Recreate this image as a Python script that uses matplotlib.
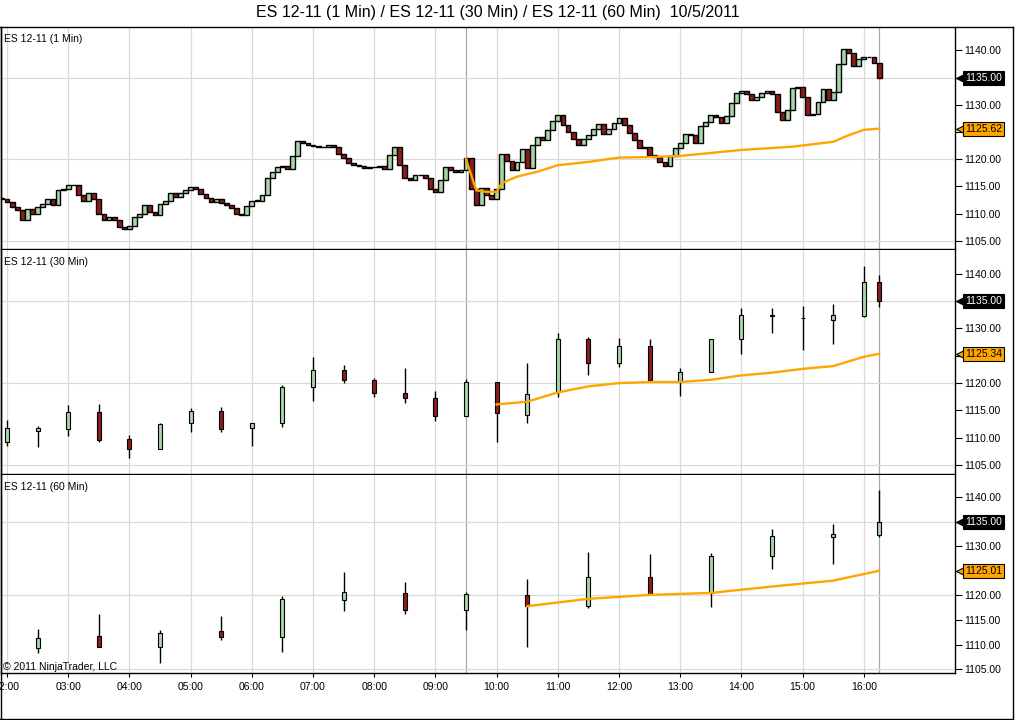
import numpy as np
import matplotlib
matplotlib.use("Agg")
import matplotlib.pyplot as plt
import matplotlib.transforms as mtransforms
from matplotlib.lines import Line2D

plt.rcParams['font.family'] = ['Liberation Sans', 'DejaVu Sans']

UP = '#A6D6A6'
DOWN = '#8E1B1B'
MA = '#FFA500'

# --- ES 12-11 (1 Min): closes every 5 minutes from 01:55
m1_first = "01:55"
m1_close = [1112.75,
            1112.1, 1111.2, 1110.6, 1108.8, 1110.9, 1110.0, 1111.2, 1111.8, 1112.6, 1111.5, 1114.3, 1114.6,
            1115.3, 1115.2, 1113.4, 1112.4, 1113.7, 1112.75, 1110.0, 1108.8, 1109.4, 1108.8, 1107.5, 1107.2,
            1107.8, 1109.4, 1110.0, 1111.5, 1110.3, 1109.7, 1111.8, 1112.4, 1113.7, 1113.05, 1113.7, 1114.3,
            1114.9, 1114.6, 1113.6, 1112.8, 1112.2, 1112.6, 1112.0, 1111.5, 1111.0, 1110.0, 1109.8, 1111.4,
            1112.4, 1112.4, 1113.5, 1116.5, 1117.6, 1118.5, 1118.7, 1118.2, 1120.5, 1123.4, 1122.9, 1122.6,
            1122.5, 1122.2, 1122.3, 1122.7, 1122.2, 1121.0, 1120.3, 1119.3, 1119.0, 1118.7, 1118.4, 1118.5,
            1118.6, 1118.8, 1118.2, 1120.8, 1122.2, 1119.0, 1116.5, 1116.2, 1117.1, 1117.1, 1116.5, 1114.5,
            1114.0, 1116.2, 1118.6, 1118.0, 1117.7, 1118.1, 1120.2, 1114.5, 1111.5, 1114.8, 1113.5, 1112.6,
            1114.5, 1121.0, 1119.7, 1118.0, 1119.5, 1121.8, 1118.3, 1122.6, 1124.1, 1123.5, 1125.4, 1127.0,
            1128.1, 1126.3, 1125.0, 1123.7, 1122.7, 1123.8, 1124.5, 1125.6, 1126.5, 1124.6, 1125.6, 1126.6,
            1127.6, 1126.2, 1124.9, 1123.6, 1122.0, 1122.2, 1120.8, 1120.4, 1119.4, 1118.8, 1120.5, 1122.1,
            1123.0, 1124.6, 1124.4, 1123.0, 1126.1, 1126.9, 1128.2, 1127.7, 1126.7, 1128.0, 1130.3, 1132.1,
            1132.6, 1131.9, 1130.9, 1131.4, 1132.1, 1132.5, 1132.0, 1128.7, 1127.2, 1129.0, 1133.0, 1133.3,
            1131.5, 1128.1, 1128.4, 1130.6, 1132.9, 1130.8, 1132.4, 1137.5, 1140.2, 1139.6, 1137.2, 1138.4,
            1138.7, 1138.7, 1137.6, 1135.0]
ma1_times = ["09:30", "09:40", "09:50", "10:00", "10:05", "10:20", "10:40", "11:00", "11:30",
             "12:00", "12:30", "13:00", "14:00", "14:50", "15:30", "15:45", "16:00", "16:15"]
ma1_vals = [1120.0, 1114.3, 1114.0, 1114.0, 1115.6, 1116.8, 1117.7, 1118.9, 1119.5,
            1120.3, 1120.4, 1120.6, 1121.7, 1122.3, 1123.2, 1124.4, 1125.4, 1125.62]

# --- ES 12-11 (30 Min)
m30_times = ["02:00", "02:30", "03:00", "03:30", "04:00", "04:30", "05:00", "05:30", "06:00", "06:30",
             "07:00", "07:30", "08:00", "08:30", "09:00", "09:30", "10:00", "10:30", "11:00", "11:30",
             "12:00", "12:30", "13:00", "13:30", "14:00", "14:30", "15:00", "15:30", "16:00", "16:15"]
m30_open = [1109.3, 1111.3, 1111.7, 1114.7, 1109.7, 1107.9, 1112.7, 1114.9, 1111.75, 1112.8,
            1119.2, 1122.3, 1120.5, 1118.1, 1117.2, 1113.9, 1120.2, 1114.2, 1118.3, 1128.1,
            1123.7, 1126.8, 1120.2, 1122.0, 1128.1, 1132.2, 1131.8, 1131.5, 1132.3, 1138.5]
m30_high = [1113.3, 1112.2, 1116.0, 1116.2, 1110.5, 1112.8, 1115.4, 1115.7, 1112.8, 1119.7,
            1124.8, 1123.3, 1121.0, 1122.8, 1118.6, 1120.7, 1120.2, 1123.6, 1129.1, 1128.5,
            1128.3, 1128.1, 1122.8, 1128.1, 1133.7, 1133.7, 1134.0, 1134.4, 1141.4, 1139.7]
m30_low = [1108.6, 1108.4, 1110.4, 1109.3, 1106.4, 1107.9, 1111.1, 1111.1, 1108.6, 1111.9,
           1116.8, 1120.0, 1117.5, 1116.4, 1113.1, 1113.9, 1109.3, 1112.8, 1117.4, 1121.4,
           1123.0, 1120.5, 1117.6, 1122.0, 1125.4, 1129.1, 1126.1, 1127.1, 1132.1, 1133.9]
m30_close = [1111.75, 1111.75, 1114.7, 1109.6, 1108.0, 1112.5, 1114.9, 1111.7, 1112.8, 1119.3,
             1122.3, 1120.6, 1118.1, 1117.2, 1113.9, 1120.2, 1114.5, 1118.0, 1128.1, 1123.7,
             1126.8, 1120.5, 1122.0, 1128.1, 1132.5, 1132.4, 1131.8, 1132.4, 1138.5, 1135.0]
ma30_times = ["10:00", "10:30", "11:00", "11:30", "12:00", "12:30", "13:00", "13:30",
              "14:00", "14:30", "15:00", "15:30", "16:00", "16:15"]
ma30_vals = [1116.1, 1116.6, 1118.3, 1119.4, 1120.0, 1120.2, 1120.2, 1120.6,
             1121.4, 1121.9, 1122.6, 1123.1, 1124.8, 1125.34]

# --- ES 12-11 (60 Min)
m60_times = ["02:30", "03:30", "04:30", "05:30", "06:30", "07:30", "08:30", "09:30",
             "10:30", "11:30", "12:30", "13:30", "14:30", "15:30", "16:15"]
m60_open = [1109.3, 1111.7, 1109.5, 1112.7, 1111.5, 1119.1, 1120.5, 1117.1,
            1120.0, 1117.9, 1123.65, 1120.5, 1128.0, 1131.8, 1132.3]
m60_high = [1113.1, 1116.2, 1112.9, 1115.8, 1119.8, 1124.7, 1122.7, 1120.6,
            1123.4, 1128.9, 1128.4, 1128.6, 1133.6, 1134.5, 1141.4]
m60_low = [1108.3, 1109.4, 1106.3, 1111.0, 1108.5, 1116.9, 1116.3, 1113.0,
           1109.4, 1117.4, 1120.3, 1117.7, 1125.3, 1126.3, 1131.9]
m60_close = [1111.4, 1109.4, 1112.3, 1111.5, 1119.25, 1120.7, 1117.0, 1120.3,
             1117.9, 1123.65, 1120.3, 1128.0, 1132.0, 1132.4, 1135.0]
ma60_times = ["10:30", "11:30", "12:30", "13:30", "14:30", "15:30", "16:15"]
ma60_vals = [1117.8, 1119.3, 1120.1, 1120.5, 1121.8, 1123.0, 1125.01]

last_price = 1135.00
hour_labels = ["02:00", "03:00", "04:00", "05:00", "06:00", "07:00", "08:00", "09:00",
               "10:00", "11:00", "12:00", "13:00", "14:00", "15:00", "16:00"]
session_lines = ["09:30", "16:15"]


def mins(s):
    h, m = s.split(":")
    return int(h) * 60 + int(m)


def candles(ax, t, o, h, l, c, width, lw=0.8):
    t, o, c = np.asarray(t, float), np.asarray(o, float), np.asarray(c, float)
    if h is not None:
        ax.vlines(t, l, h, color='black', lw=1.0, zorder=3)
    cols = [UP if ci > oi else (DOWN if ci < oi else 'black') for oi, ci in zip(o, c)]
    body = np.maximum(np.abs(c - o), 0.05)
    ax.bar(t, body, bottom=np.minimum(o, c), width=width, color=cols,
           edgecolor='black', linewidth=lw, zorder=4)


def price_box(ax, y, text, fc, tc):
    tr = mtransforms.blended_transform_factory(ax.transAxes, ax.transData)
    ax.plot([1.0079], [y], marker='<', ms=9.5, color=fc, mec='black' if fc != 'black' else fc,
            mew=0.8, transform=tr, clip_on=False, zorder=20)
    ax.text(1.0105, y, text, transform=tr, ha='left', va='center', fontsize=7.5, color=tc,
            clip_on=False, zorder=21,
            bbox=dict(boxstyle='square,pad=0.2', fc=fc, ec='black', lw=0.8))


W, H = 1016, 720
fig = plt.figure(figsize=(W / 100, H / 100), dpi=100)

panels = [(27, 249, (1103.5, 1144.3), "ES 12-11 (1 Min)"),
          (250, 474, (1103.4, 1144.3), "ES 12-11 (30 Min)"),
          (475, 673, (1104.2, 1144.5), "ES 12-11 (60 Min)")]
axes = []
for top, bot, ylim, label in panels:
    ax = fig.add_axes([1 / W, 1 - bot / H, 954 / W, (bot - top) / H])
    ax.set_xlim(114.1, 1049.4)
    ax.set_ylim(*ylim)
    for x in hour_labels:
        ax.axvline(mins(x), color='#DADADA', lw=0.9, zorder=1)
    for x in session_lines:
        ax.axvline(mins(x), color='#A8A8A8', lw=0.9, zorder=1)
    for yv in (1105, 1120, 1135):
        ax.axhline(yv, color='#DADADA', lw=0.9, zorder=1)
    ax.yaxis.tick_right()
    ax.set_yticks(np.arange(1105, 1141, 5))
    ax.set_yticklabels(["%.2f" % v for v in np.arange(1105, 1141, 5)])
    ax.tick_params(axis='y', direction='out', length=5, width=0.8, pad=1.5, labelsize=7.5)
    ax.set_xticks([])
    for s in ax.spines.values():
        s.set_color('black')
        s.set_linewidth(1.0)
    ax.spines['top'].set_visible(False)
    ax.text(3 / 954, 1 - 12 / (bot - top), label, transform=ax.transAxes, fontsize=7.5,
            ha='left', va='center')
    axes.append(ax)

ax1, ax2, ax3 = axes

# 1 Min panel
t1 = mins(m1_first) + 5 * np.arange(len(m1_close))
o1 = [m1_close[0]] + m1_close[:-1]
candles(ax1, t1, o1, None, None, m1_close, width=4.7, lw=1.0)
ax1.plot([mins(s) for s in ma1_times], ma1_vals, color=MA, lw=1.7, zorder=5)

# 30 Min panel
candles(ax2, [mins(s) for s in m30_times], m30_open, m30_high, m30_low, m30_close, width=3.8)
ax2.plot([mins(s) for s in ma30_times], ma30_vals, color=MA, lw=1.7, zorder=5)

# 60 Min panel
candles(ax3, [mins(s) for s in m60_times], m60_open, m60_high, m60_low, m60_close, width=3.8)
ax3.plot([mins(s) for s in ma60_times], ma60_vals, color=MA, lw=1.7, zorder=5)

ax3.set_xticks([mins(s) for s in hour_labels])
ax3.set_xticklabels(hour_labels)
ax3.tick_params(axis='x', direction='out', length=3, width=0.8, pad=3.5, labelsize=7.5)
ax3.text(2 / 954, 6 / 198, "\u00a9 2011 NinjaTrader, LLC", transform=ax3.transAxes,
         fontsize=7.5, ha='left', va='center')

for ax, ma_vals in ((ax1, ma1_vals), (ax2, ma30_vals), (ax3, ma60_vals)):
    price_box(ax, last_price, "%.2f" % last_price, 'black', 'white')
    price_box(ax, ma_vals[-1], "%.2f" % ma_vals[-1], MA, 'black')

# outer frame and title
frame = dict(transform=fig.transFigure, color='black', lw=1.0)
fig.add_artist(Line2D([0, 1013 / W], [1 - 27 / H] * 2, **frame))
fig.add_artist(Line2D([0.5 / W] * 2, [1 - 27 / H, 1 - 719 / H], **frame))
fig.add_artist(Line2D([1013 / W] * 2, [1 - 27 / H, 1 - 719 / H], **frame))
fig.add_artist(Line2D([0, 1013 / W], [1 - 719 / H] * 2, **frame))
fig.text(498 / W, 1 - 13 / H,
         "ES 12-11 (1 Min) / ES 12-11 (30 Min) / ES 12-11 (60 Min)  10/5/2011",
         ha='center', va='center', fontsize=11.5)

fig.savefig("out.png", dpi=100)
